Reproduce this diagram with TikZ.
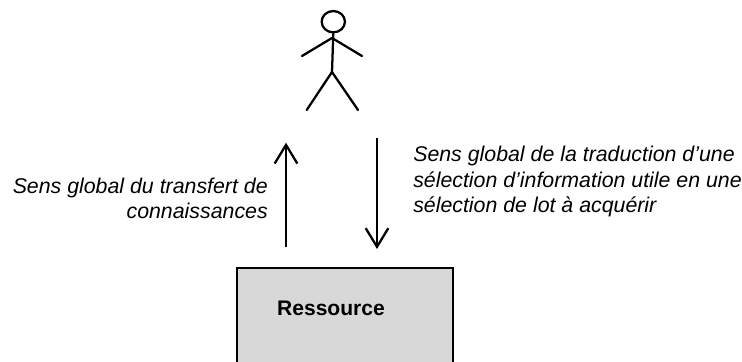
\documentclass[tikz,border=0pt]{standalone}
\usepackage{fontspec}
\usepackage{xcolor}
\setmainfont{Liberation Sans}
\usetikzlibrary{arrows.meta, calc, positioning, shapes.geometric}
\definecolor{boxgray}{HTML}{D8D8D8}
\tikzset{
  figure/.style={line width=1.7pt, line cap=round, line join=round},
  flow/.style={line width=1.7pt, -{Straight Barb[length=14pt,width=17pt,line width=1.7pt]}},
  note/.style={font=\itshape\fontsize{16pt}{18.8pt}\selectfont, inner sep=0pt},
}
\begin{document}
\begin{tikzpicture}[x=0.75pt,y=-0.75pt]
  \useasboundingbox (0,0) rectangle (742,361);

  % stick figure
  \node[draw, figure, ellipse, inner sep=0pt, minimum width=17.5pt, minimum height=16pt] (head) at (333.3,21.7) {};
  \coordinate (shoulder) at (332,38);
  \coordinate (hip) at (332,72);
  \draw[figure] (head.south) -- (hip);
  \draw[figure] (302,56) -- (shoulder) -- (362,56);
  \draw[figure] (306.7,110) -- (hip) -- (358,110);

  % resource box, runs off the bottom
  \fill[boxgray, draw=black, line width=1.3pt] (237,268) rectangle (453,380);
  \node[inner sep=0pt, font=\bfseries\fontsize{15.8pt}{18pt}\selectfont] (res) at (331,308) {Ressource};

  % arrows
  \coordinate (upfrom) at (286,246.7);
  \coordinate (upto) at (286,142.7);
  \coordinate (downfrom) at (377,138);
  \coordinate (downto) at (377,249);
  \draw[flow] (upfrom) -- (upto);
  \draw[flow] (downfrom) -- (downto);

  \node[note, align=right, anchor=east] (left) at (268,198) {Sens global du transfert de\\connaissances};
  \node[note, align=left, anchor=west] (right) at (413,181.5) {Sens global de la traduction d’une\\sélection d’information utile en une\\sélection de lot à acquérir};
\end{tikzpicture}
\end{document}
